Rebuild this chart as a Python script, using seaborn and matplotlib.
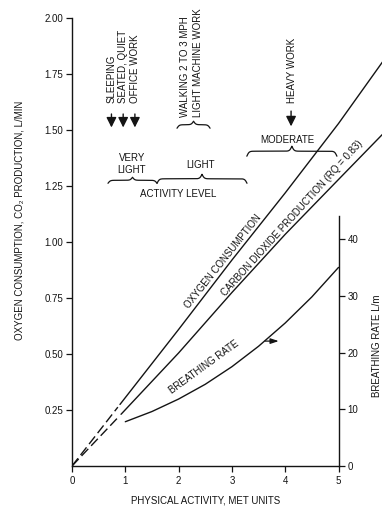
import numpy as np
import matplotlib
matplotlib.use("Agg")
import matplotlib.pyplot as plt
import seaborn as sns

# oxygen consumption, L/min (solid part and dashed extrapolation to origin)
o2_met = [0.9, 2.0, 3.0, 4.0, 5.0, 5.9]
o2_rate = [0.275, 0.61, 0.92, 1.22, 1.53, 1.83]
o2_dash_met = [0.0, 0.86]
o2_dash_rate = [0.0, 0.263]

# carbon dioxide production, L/min (RQ = 0.83)
co2_met = [0.92, 2.0, 3.0, 4.0, 5.0, 5.9]
co2_rate = [0.231, 0.505, 0.775, 1.035, 1.28, 1.50]
co2_dash_met = [0.0, 0.88]
co2_dash_rate = [0.0, 0.221]

# breathing rate, L/m (right axis)
br_met = [1.0, 1.5, 2.0, 2.5, 3.0, 3.5, 4.0, 4.5, 5.0]
br_rate = [7.8, 9.6, 11.8, 14.4, 17.5, 21.1, 25.2, 29.8, 35.0]

x_ticks = [0, 1, 2, 3, 4, 5]
y_ticks = [0.25, 0.50, 0.75, 1.00, 1.25, 1.50, 1.75, 2.00]
br_ticks = [0, 10, 20, 30, 40]

INK = "#141414"

sns.set_theme(style="white")
plt.rcParams["font.family"] = ["Liberation Sans", "DejaVu Sans"]

fig = plt.figure(figsize=(3.82, 5.09), dpi=100)
ax = fig.add_axes([0.1885, 0.0845, 0.8115, 0.8795])
ax.set_xlim(0, 5.816)
ax.set_ylim(0, 2.0)

sns.lineplot(x=o2_met, y=o2_rate, ax=ax, color=INK, lw=1.0)
sns.lineplot(x=o2_dash_met, y=o2_dash_rate, ax=ax, color=INK, lw=1.0,
             linestyle=(0, (7, 3)))
sns.lineplot(x=co2_met, y=co2_rate, ax=ax, color=INK, lw=1.0)
sns.lineplot(x=co2_dash_met, y=co2_dash_rate, ax=ax, color=INK, lw=1.0,
             linestyle=(0, (7, 3)))

ax2 = ax.twinx()
ax2.set_ylim(0, 78.9)
sns.lineplot(x=br_met, y=br_rate, ax=ax2, color=INK, lw=1.0)

# spines
for s in ["top", "right"]:
    ax.spines[s].set_visible(False)
ax.spines["left"].set_bounds(0, 2.0)
ax.spines["bottom"].set_bounds(0, 5)
for s in ["left", "bottom"]:
    ax.spines[s].set_color(INK)
    ax.spines[s].set_linewidth(1.0)
for s in ["top", "left", "bottom"]:
    ax2.spines[s].set_visible(False)
ax2.spines["right"].set_position(("data", 5))
ax2.spines["right"].set_bounds(0, 44)
ax2.spines["right"].set_color(INK)
ax2.spines["right"].set_linewidth(1.0)

ax.set_xticks(x_ticks)
ax.set_xticklabels([str(v) for v in x_ticks])
ax.set_yticks(y_ticks)
ax.set_yticklabels([f"{v:.2f}" for v in y_ticks])
ax2.set_yticks(br_ticks)
ax2.set_yticklabels([str(v) for v in br_ticks])
ax.set_xlabel("")
ax.set_ylabel("")
ax2.set_ylabel("")
ax.tick_params(axis="both", direction="out", length=4, width=0.9,
               colors=INK, labelsize=7)
ax.tick_params(axis="x", bottom=True, pad=3)
ax.tick_params(axis="y", left=True, pad=2.5)
ax2.tick_params(axis="y", right=True, direction="out", length=4, width=0.9,
                colors=INK, labelsize=7, pad=2.5)
ax.grid(False)
ax2.grid(False)

# axis titles
fig.text(0.05, 0.568, "OXYGEN CONSUMPTION, CO\u2082 PRODUCTION, L/MIN",
         rotation=90, ha="center", va="center", fontsize=7, color=INK)
fig.text(0.537, 0.0163, "PHYSICAL ACTIVITY, MET UNITS",
         ha="center", va="center", fontsize=7, color=INK)
fig.text(0.987, 0.32, "BREATHING RATE L/m", rotation=90,
         ha="center", va="center", fontsize=7, color=INK)

# curve labels
ax.text(2.84, 0.915, "OXYGEN CONSUMPTION", rotation=51.5,
        rotation_mode="anchor", ha="center", va="center", fontsize=7, color=INK)
ax.text(4.12, 1.105, "CARBON DIOXIDE PRODUCTION (RQ = 0.83)", rotation=48,
        rotation_mode="anchor", ha="center", va="center", fontsize=7, color=INK)
ax.text(2.48, 0.44, "BREATHING RATE", rotation=36,
        rotation_mode="anchor", ha="center", va="center", fontsize=7, color=INK)
ax.annotate("", xy=(3.93, 0.558), xytext=(3.57, 0.558),
            arrowprops=dict(arrowstyle="-|>,head_length=0.6,head_width=0.2",
                            color=INK, lw=0.9, mutation_scale=8))

# activity annotations
for x, label in [(0.74, "SLEEPING"), (0.96, "SEATED, QUIET"), (1.18, "OFFICE WORK")]:
    ax.text(x, 1.62, label, rotation=90, ha="center", va="bottom",
            fontsize=7, color=INK)
    ax.annotate("", xy=(x, 1.50), xytext=(x, 1.585),
                arrowprops=dict(arrowstyle="-|>,head_length=0.5,head_width=0.25",
                                color=INK, lw=1.0, mutation_scale=12))
for x, label in [(2.12, "WALKING 2 TO 3 MPH"), (2.36, "LIGHT MACHINE WORK")]:
    ax.text(x, 1.558, label, rotation=90, ha="center", va="bottom",
            fontsize=7, color=INK)
ax.text(4.12, 1.62, "HEAVY WORK", rotation=90, ha="center", va="bottom",
        fontsize=7, color=INK)
ax.annotate("", xy=(4.11, 1.505), xytext=(4.11, 1.598),
            arrowprops=dict(arrowstyle="-|>,head_length=0.5,head_width=0.25",
                            color=INK, lw=1.0, mutation_scale=12))

ax.text(4.05, 1.455, "MODERATE", ha="center", va="center", fontsize=7, color=INK)
ax.text(1.12, 1.378, "VERY", ha="center", va="center", fontsize=7, color=INK)
ax.text(1.12, 1.321, "LIGHT", ha="center", va="center", fontsize=7, color=INK)
ax.text(2.42, 1.344, "LIGHT", ha="center", va="center", fontsize=7, color=INK)
ax.text(1.99, 1.217, "ACTIVITY LEVEL", ha="center", va="center", fontsize=7, color=INK)


def draw_brace(ax, x0, x1, y, height_px, b=0.9):
    p0x, p0y = ax.transData.transform((x0, y))
    p1x, _ = ax.transData.transform((x1, y))
    length = p1x - p0x
    u = np.linspace(0, length / 2, 150)
    half = 1 / (1 + np.exp(-b * u)) + 1 / (1 + np.exp(-b * (u - length / 2))) - 0.5
    prof = np.concatenate([half, half[::-1]])
    xs = np.concatenate([u, length - u[::-1]]) + p0x
    ys = p0y + prof * height_px
    pts = ax.transData.inverted().transform(np.column_stack([xs, ys]))
    ax.plot(pts[:, 0], pts[:, 1], color=INK, lw=0.9, clip_on=False)


draw_brace(ax, 0.675, 1.595, 1.263, 6)
draw_brace(ax, 1.595, 3.283, 1.263, 9)
draw_brace(ax, 1.97, 2.59, 1.509, 7)
draw_brace(ax, 3.28, 4.97, 1.384, 10)

fig.savefig("out.png", dpi=100)
